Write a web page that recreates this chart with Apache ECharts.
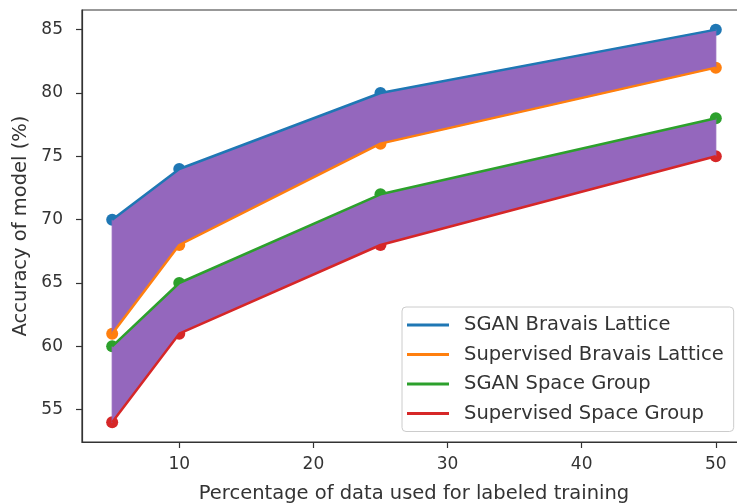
<!DOCTYPE html>
<html><head><meta charset="utf-8">
<script src="https://cdn.jsdelivr.net/npm/echarts@6/dist/echarts.min.js"></script>
<style>html,body{margin:0;padding:0;background:#fff}#c{width:737px;height:503px}</style>
</head><body><div id="c"></div>
<script>
const xValues = [5, 10, 25, 50];
const sganBravais = [70, 74, 80, 85];
const supBravais = [61, 68, 76, 82];
const sganSpace = [60, 65, 72, 78];
const supSpace = [54, 61, 68, 75];
const xTicks = [10, 20, 30, 40, 50];
const yTicks = [55, 60, 65, 70, 75, 80, 85];
const names = ['SGAN Bravais Lattice', 'Supervised Bravais Lattice', 'SGAN Space Group', 'Supervised Space Group'];
const colors = ['#1f77b4', '#ff7f0e', '#2ca02c', '#d62728'];
const fillColor = '#9467bd';
const FONT = 'DejaVu Sans';

const seriesVals = [sganBravais, supBravais, sganSpace, supSpace];
const pairs = v => xValues.map((x, i) => [x, v[i]]);

function band(upper, lower) {
  return {
    type: 'custom', z: 2, silent: true,
    data: [[xValues[0], upper[0]]],
    encode: { x: 0, y: 1 },
    renderItem: function (params, api) {
      const pts = [];
      for (let i = 0; i < xValues.length; i++) pts.push(api.coord([xValues[i], upper[i]]));
      for (let i = xValues.length - 1; i >= 0; i--) pts.push(api.coord([xValues[i], lower[i]]));
      return { type: 'polygon', shape: { points: pts }, style: { fill: fillColor, stroke: fillColor, lineWidth: 1 } };
    }
  };
}

const series = [];
seriesVals.forEach((v, i) => {
  series.push({ type: 'scatter', name: '_s' + i, z: 1, data: pairs(v), symbolSize: 12, itemStyle: { color: colors[i], opacity: 1 }, silent: true });
});
series.push(band(sganBravais, supBravais));
series.push(band(sganSpace, supSpace));
seriesVals.forEach((v, i) => {
  series.push({ type: 'line', name: names[i], z: 3, data: pairs(v), showSymbol: false, symbol: 'none',
    lineStyle: { color: colors[i], width: 2.5 }, itemStyle: { color: colors[i] } });
});

const chart = echarts.init(document.getElementById('c'), null, { renderer: 'canvas' });
chart.setOption({
  animation: false,
  backgroundColor: '#fff',
  grid: { left: 82, top: 10, width: 664, height: 432, outerBoundsMode: 'none', containLabel: false,
    show: true, borderColor: '#333', borderWidth: 1.2, backgroundColor: 'transparent' },
  legend: {
    data: names.map((n, i) => ({ name: n, icon: 'rect', itemStyle: { color: colors[i] } })),
    orient: 'vertical', left: 402, top: 307,
    itemWidth: 42, itemHeight: 3, itemGap: 7.5,
    padding: [7, 10, 7, 5],
    backgroundColor: 'rgba(255,255,255,0.8)', borderColor: '#cccccc', borderWidth: 1, borderRadius: 4,
    textStyle: { fontFamily: FONT, fontSize: 19.5, color: '#333', lineHeight: 22, padding: [0, 0, 0, 10] }
  },
  xAxis: {
    type: 'value', min: 2.75, max: 52.25,
    name: 'Percentage of data used for labeled training', nameLocation: 'middle', nameGap: 42,
    nameTextStyle: { fontFamily: FONT, fontSize: 19.5, color: '#333' },
    axisLine: { show: true, lineStyle: { color: '#333', width: 1.2 } },
    axisTick: { show: true, length: 6, customValues: xTicks, lineStyle: { color: '#333', width: 1.2 } },
    axisLabel: { customValues: xTicks, margin: 14, fontFamily: FONT, fontSize: 17, color: '#333' },
    splitLine: { show: false }
  },
  yAxis: {
    type: 'value', min: 52.45, max: 86.55,
    name: 'Accuracy of model (%)', nameLocation: 'middle', nameGap: 51, nameRotate: 90,
    nameTextStyle: { fontFamily: FONT, fontSize: 19.5, color: '#333' },
    axisLine: { show: true, lineStyle: { color: '#333', width: 1.2 } },
    axisTick: { show: true, length: 6, customValues: yTicks, lineStyle: { color: '#333', width: 1.2 } },
    axisLabel: { customValues: yTicks, margin: 19, fontFamily: FONT, fontSize: 17, color: '#333' },
    splitLine: { show: false }
  },
  series: series
});
</script></body></html>
